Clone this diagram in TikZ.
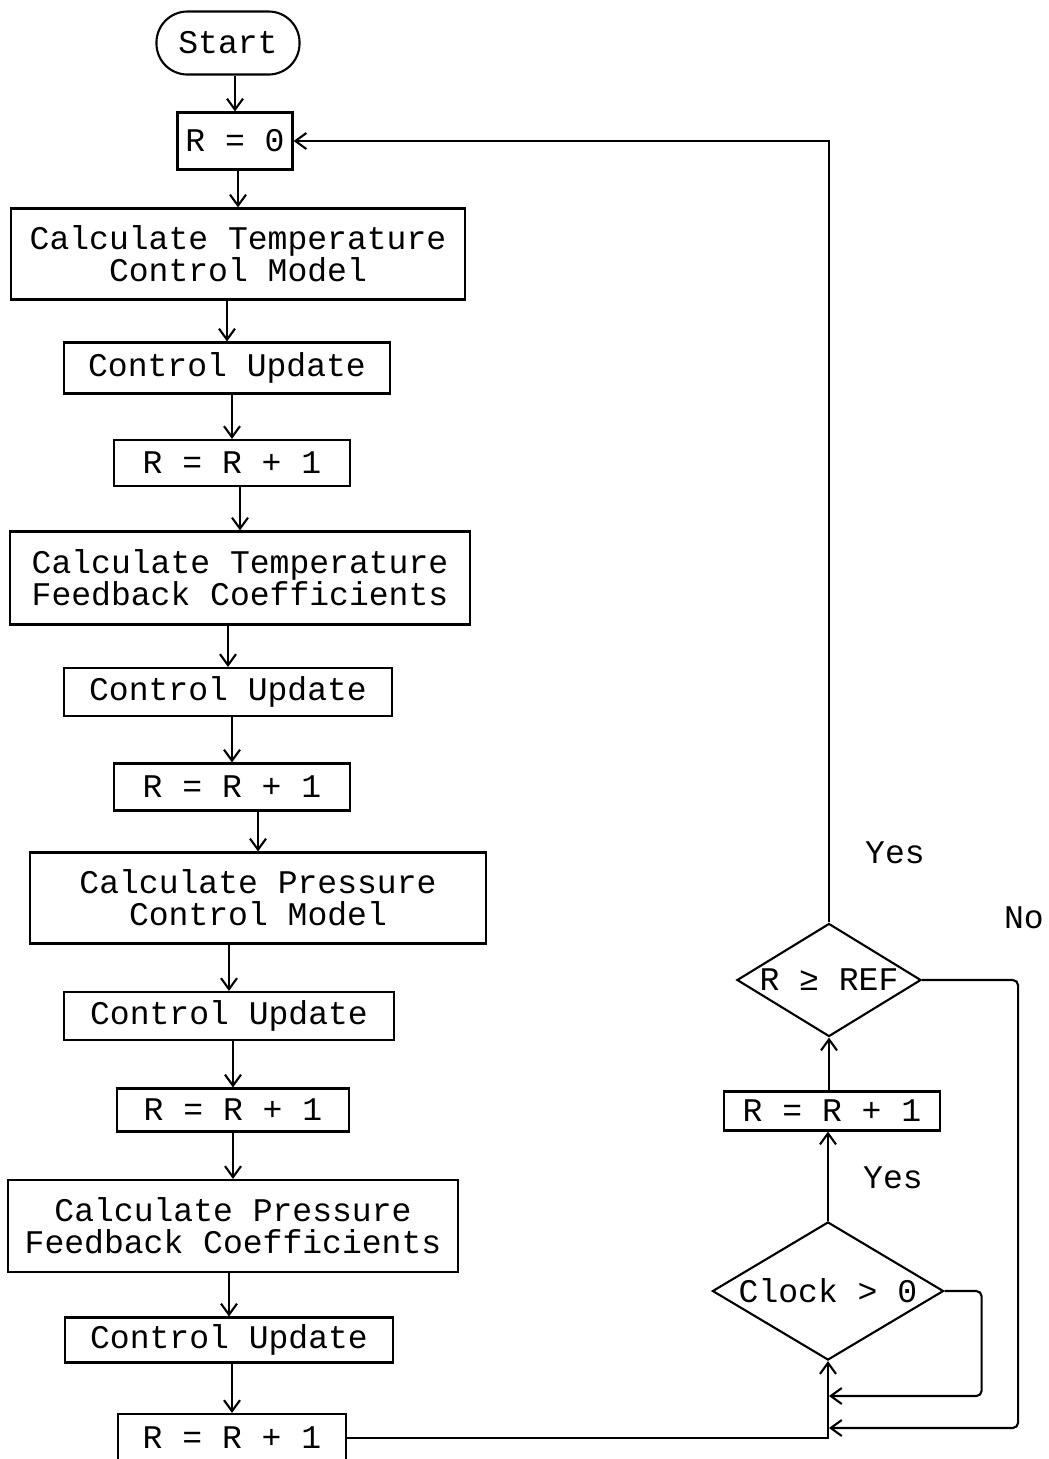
\documentclass[tikz,border=0pt]{standalone}
\usepackage{fontspec}
\setmonofont{Liberation Mono}
\usetikzlibrary{shapes.geometric,arrows.meta}

\begin{document}
\begin{tikzpicture}[x=0.01cm,y=-0.01cm,line width=0.6pt,
    font=\ttfamily\fontsize{9.4}{9.1}\selectfont,
    box/.style 2 args={draw,align=center,inner sep=0pt,minimum width=#1,minimum height=#2},
    term/.style={draw,rounded corners=0.31cm,inner sep=0pt,minimum width=1.43cm,minimum height=0.63cm},
    test/.style={draw,diamond,inner sep=0pt},
    arr/.style={-{Straight Barb[length=1.1mm,width=1.6mm]}}]
  \useasboundingbox (0,0) rectangle (1049,1459);
  % main column
  \node[term] (start) at (228,43) {Start};
  \node[box={1.15cm}{0.57cm}] (r0) at (235,141) {R = 0};
  \node[box={4.53cm}{0.91cm}] (ctcm) at (238,254) {Calculate Temperature\\Control Model};
  \node[box={3.26cm}{0.51cm}] (cua) at (227,368) {Control Update};
  \node[box={2.35cm}{0.46cm}] (ra) at (232,463) {R = R + 1};
  \node[box={4.59cm}{0.93cm}] (ctfc) at (240,578) {Calculate Temperature\\Feedback Coefficients};
  \node[box={3.28cm}{0.48cm}] (cub) at (228,692) {Control Update};
  \node[box={2.35cm}{0.47cm}] (rb) at (232,787) {R = R + 1};
  \node[box={4.55cm}{0.91cm}] (cpcm) at (258,898) {Calculate Pressure\\Control Model};
  \node[box={3.30cm}{0.48cm}] (cuc) at (229,1016) {Control Update};
  \node[box={2.32cm}{0.43cm}] (rc) at (233,1110) {R = R + 1};
  \node[box={4.50cm}{0.92cm}] (cpfc) at (233,1226) {Calculate Pressure\\Feedback Coefficients};
  \node[box={3.28cm}{0.45cm}] (cud) at (229,1340) {Control Update};
  \node[box={2.28cm}{0.48cm}] (rd) at (232,1438) {R = R + 1};
  \foreach \a/\b in {start/r0,r0/ctcm,ctcm/cua,cua/ra,ra/ctfc,ctfc/cub,cub/rb,rb/cpcm,
      cpcm/cuc,cuc/rc,rc/cpfc,cpfc/cud,cud/rd}
    \draw[arr] (\a.south -| \b) -- (\b.north);
  % right column
  \node[test,aspect=1.63,minimum width=1.84cm,minimum height=1.13cm] (ref) at (829,980) {R ≥ REF};
  \node[box={2.15cm}{0.39cm}] (re) at (832,1111) {R = R + 1};
  \node[test,aspect=1.67,minimum width=2.31cm,minimum height=1.38cm] (clock) at (828,1291) {Clock > 0};
  \coordinate (nojoin) at (829,1428);
  \coordinate (clkjoin) at (829,1396);
  \node (yesa) at (895,853) {Yes};
  \node (no) at (1024,918) {No};
  \node (yesb) at (893,1178) {Yes};
  \draw[arr] (ref.north) |- (r0.east);
  \draw[arr] (re.north -| ref) -- (ref.south);
  \draw[arr] (clock.north) -- (clock.north |- re.south);
  \draw[arr,rounded corners=1.5pt] (ref.east) -- ++(96,0) |- (nojoin);
  \draw[arr,rounded corners=1.5pt] (clock.east) -- ++(37,0) |- (clkjoin);
  \draw[arr] (rd.east) -| (clock.south);
\end{tikzpicture}
\end{document}
